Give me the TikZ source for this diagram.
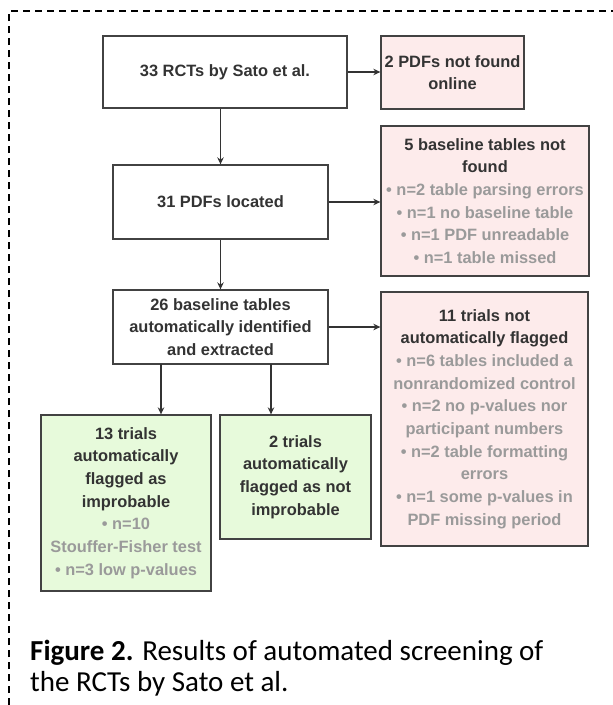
\documentclass[tikz,border=0pt]{standalone}
\usepackage{fontspec}
\setmainfont{Liberation Sans}
\newfontfamily\capfont{Carlito}
\usetikzlibrary{arrows.meta}
\definecolor{boxline}{HTML}{424242}
\definecolor{txtdark}{HTML}{333333}
\definecolor{txtgray}{HTML}{9A9A9A}
\definecolor{pinkfill}{HTML}{FDEBEB}
\definecolor{greenfill}{HTML}{E7FADB}
\newcommand{\gry}[1]{\textcolor{txtgray}{#1}}
\tikzset{
  flowbox/.style={draw=boxline, line width=1.3pt, fill=white, align=center, inner sep=2pt,
    text=txtdark, font={\fontsize{16.4}{22.7}\selectfont\bfseries}},
  pinkbox/.style={flowbox, fill=pinkfill},
  greenbox/.style={flowbox, fill=greenfill},
  arr/.style={draw=txtdark, line width=1.3pt, -{Stealth[length=7pt,width=6.5pt]}},
  frame/.style={line width=1.4pt, dash pattern=on 7pt off 5pt},
  captext/.style={anchor=base west, inner sep=0pt, font={\capfont\fontsize{29}{31}\selectfont}},
}
\begin{document}
\begin{tikzpicture}[x=1pt,y=-1pt]
\useasboundingbox (0,0) rectangle (613,705);
\draw[frame] (9,705) -- (9,11) -- (613,11);

\node[flowbox, minimum width=244pt, minimum height=72pt] (b1) at (225,72) {33 RCTs by Sato et al.};
\node[pinkbox, minimum width=143pt, minimum height=73pt] (b2) at (452.5,72.5) {2 PDFs not found\\online};
\node[flowbox, minimum width=215pt, minimum height=74pt] (b3) at (220.5,202) {31 PDFs located};
\node[pinkbox, minimum width=208pt, minimum height=150pt] (b4) at (485,201)
  {5 baseline tables not\\found\\\gry{• n=2 table parsing errors}\\\gry{• n=1 no baseline table}\\\gry{• n=1 PDF unreadable}\\\gry{• n=1 table missed}};
\node[flowbox, minimum width=215pt, minimum height=74pt] (b5) at (220.5,327)
  {26 baseline tables\\automatically identified\\and extracted};
\node[pinkbox, minimum width=207pt, minimum height=254pt] (b6) at (484.5,419)
  {11 trials not\\automatically flagged\\\gry{• n=6 tables included a}\\\gry{nonrandomized control}\\\gry{• n=2 no p-values nor}\\\gry{participant numbers}\\\gry{• n=2 table formatting}\\\gry{errors}\\\gry{• n=1 some p-values in}\\\gry{PDF missing period}};
\node[greenbox, minimum width=170pt, minimum height=176pt] (b7) at (126,503)
  {13 trials\\automatically\\flagged as\\improbable\\\gry{• n=10}\\\gry{Stouffer-Fisher test}\\\gry{• n=3 low p-values}};
\node[greenbox, minimum width=151pt, minimum height=124pt] (b8) at (295.5,477)
  {2 trials\\automatically\\flagged as not\\improbable};

\draw[arr] (b1.east) -- (b1.east -| b2.west);
\draw[arr] (b3.north |- b1.south) -- (b3.north);
\draw[arr] (b3.east) -- (b3.east -| b4.west);
\draw[arr] (b3.south) -- (b5.north);
\draw[arr] (b5.east) -- (b5.east -| b6.west);
\coordinate (s7) at (161,364);
\coordinate (s8) at (271,364);
\draw[arr] (s7) -- (s7 |- b7.north);
\draw[arr] (s8) -- (s8 |- b8.north);

\node[captext] (cap1) at (30,660) {\textbf{Figure 2.} Results of automated screening of};
\node[captext] (cap2) at (30,691) {the RCTs by Sato et al.};
\end{tikzpicture}
\end{document}
